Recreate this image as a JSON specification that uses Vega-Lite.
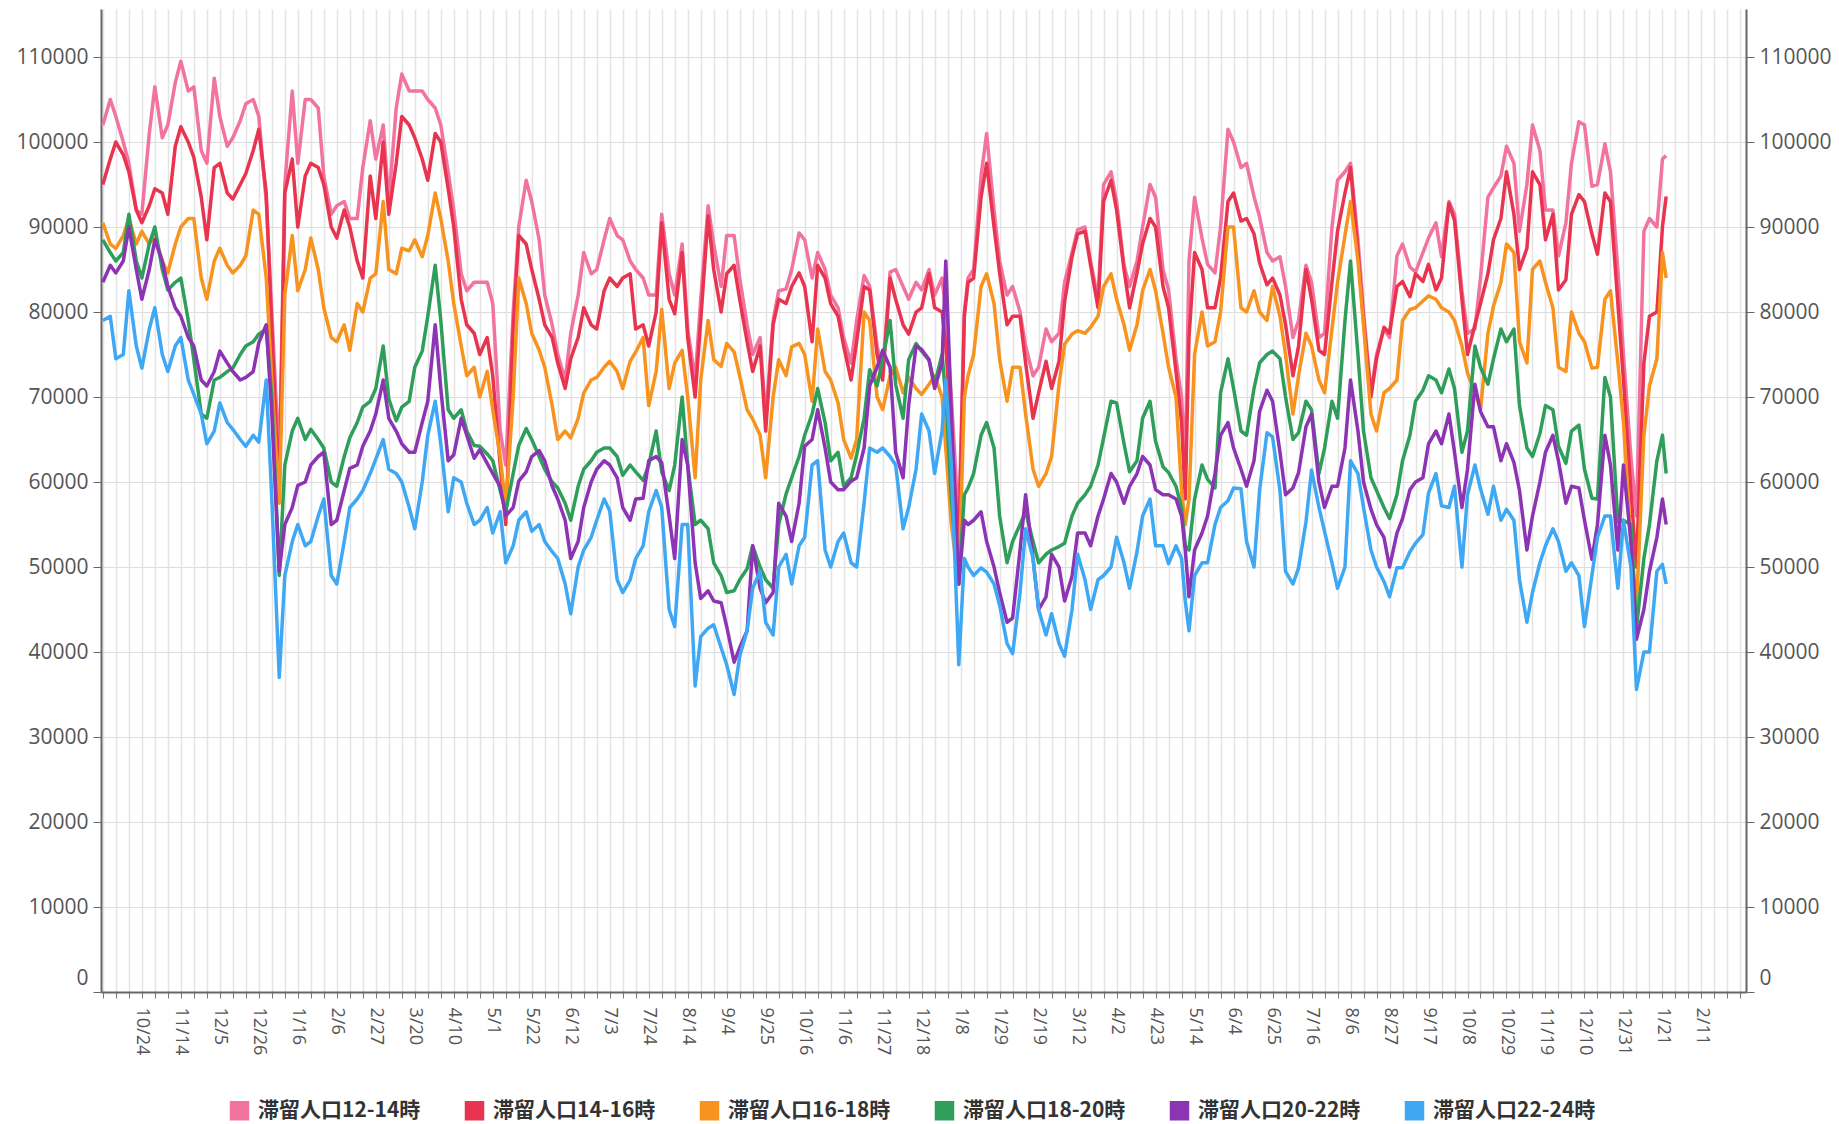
{
"$schema": "https://vega.github.io/schema/vega-lite/v6.json",
"width": 1645, "height": 983,
"autosize": {"type": "none"},
"padding": {"left": 101, "top": 9, "right": 93, "bottom": 132},
"background": "white",
"config": {"view": {"stroke": null}},
"data": {"values": [
{"date":"2020-10-03","a":102000,"b":95000,"c":90500,"d":88500,"e":83500,"f":79000},
{"date":"2020-10-07","a":105000,"b":98000,"c":88000,"d":87000,"e":85500,"f":79500},
{"date":"2020-10-10","a":103000,"b":100000,"c":87500,"d":86000,"e":84600,"f":74500},
{"date":"2020-10-14","a":100000,"b":98500,"c":89000,"d":87000,"e":86000,"f":75000},
{"date":"2020-10-17","a":97500,"b":96500,"c":91000,"d":91500,"e":90000,"f":82500},
{"date":"2020-10-21","a":92000,"b":92000,"c":88000,"d":86000,"e":85000,"f":76000},
{"date":"2020-10-24","a":91500,"b":90500,"c":89500,"d":84000,"e":81500,"f":73400},
{"date":"2020-10-28","a":101000,"b":92500,"c":88000,"d":88000,"e":85000,"f":78000},
{"date":"2020-10-31","a":106500,"b":94500,"c":89000,"d":90000,"e":88500,"f":80500},
{"date":"2020-11-04","a":100500,"b":94000,"c":86000,"d":85000,"e":86000,"f":75000},
{"date":"2020-11-07","a":102000,"b":91500,"c":84600,"d":82600,"e":83000,"f":73000},
{"date":"2020-11-11","a":107000,"b":99500,"c":88000,"d":83500,"e":80500,"f":76000},
{"date":"2020-11-14","a":109500,"b":101800,"c":90000,"d":84000,"e":79500,"f":77000},
{"date":"2020-11-18","a":106000,"b":100000,"c":91000,"d":79000,"e":77000,"f":72000},
{"date":"2020-11-21","a":106500,"b":98200,"c":91000,"d":74400,"e":76000,"f":70300},
{"date":"2020-11-25","a":99000,"b":93500,"c":84000,"d":68000,"e":72000,"f":68000},
{"date":"2020-11-28","a":97500,"b":88500,"c":81500,"d":67500,"e":71300,"f":64500},
{"date":"2020-12-02","a":107500,"b":97000,"c":86000,"d":72000,"e":73000,"f":66000},
{"date":"2020-12-05","a":103000,"b":97500,"c":87500,"d":72300,"e":75400,"f":69300},
{"date":"2020-12-09","a":99500,"b":94000,"c":85500,"d":73000,"e":74000,"f":67000},
{"date":"2020-12-12","a":100500,"b":93300,"c":84600,"d":73400,"e":73000,"f":66200},
{"date":"2020-12-16","a":102500,"b":95000,"c":85500,"d":75000,"e":72000,"f":65000},
{"date":"2020-12-19","a":104500,"b":96300,"c":86600,"d":76000,"e":72300,"f":64200},
{"date":"2020-12-23","a":105000,"b":99000,"c":92000,"d":76500,"e":73000,"f":65500},
{"date":"2020-12-26","a":103000,"b":101500,"c":91500,"d":77400,"e":76400,"f":64700},
{"date":"2020-12-30","a":93000,"b":94000,"c":84000,"d":78000,"e":78500,"f":72000},
{"date":"2021-01-02","a":80000,"b":78000,"c":72000,"d":70000,"e":68000,"f":58000},
{"date":"2021-01-06","a":62000,"b":58000,"c":57500,"d":49000,"e":49500,"f":37000},
{"date":"2021-01-09","a":95000,"b":94000,"c":82000,"d":62000,"e":55000,"f":49000},
{"date":"2021-01-13","a":106000,"b":98000,"c":89000,"d":66000,"e":57000,"f":53000},
{"date":"2021-01-16","a":97500,"b":90000,"c":82500,"d":67500,"e":59600,"f":55000},
{"date":"2021-01-20","a":105000,"b":96000,"c":85000,"d":65000,"e":60000,"f":52500},
{"date":"2021-01-23","a":105000,"b":97500,"c":88700,"d":66200,"e":62000,"f":53000},
{"date":"2021-01-27","a":104000,"b":97000,"c":85000,"d":65000,"e":63000,"f":56000},
{"date":"2021-01-30","a":96000,"b":95000,"c":80500,"d":64000,"e":63500,"f":58000},
{"date":"2021-02-03","a":91500,"b":90000,"c":77000,"d":60000,"e":55000,"f":49000},
{"date":"2021-02-06","a":92500,"b":88700,"c":76500,"d":59500,"e":55500,"f":48000},
{"date":"2021-02-10","a":93000,"b":92000,"c":78500,"d":63000,"e":59000,"f":53000},
{"date":"2021-02-13","a":91000,"b":90000,"c":75500,"d":65200,"e":61600,"f":57000},
{"date":"2021-02-17","a":91000,"b":86000,"c":81000,"d":67000,"e":62000,"f":58000},
{"date":"2021-02-20","a":97000,"b":84000,"c":80000,"d":68800,"e":64200,"f":59000},
{"date":"2021-02-24","a":102500,"b":96000,"c":84000,"d":69500,"e":66000,"f":61000},
{"date":"2021-02-27","a":98000,"b":91000,"c":84500,"d":71000,"e":68000,"f":62700},
{"date":"2021-03-03","a":102000,"b":100000,"c":93000,"d":76000,"e":72000,"f":65000},
{"date":"2021-03-06","a":93000,"b":91500,"c":85000,"d":69800,"e":67500,"f":61500},
{"date":"2021-03-10","a":104000,"b":97500,"c":84500,"d":67200,"e":66000,"f":61000},
{"date":"2021-03-13","a":108000,"b":103000,"c":87500,"d":68800,"e":64500,"f":60000},
{"date":"2021-03-17","a":106000,"b":102000,"c":87200,"d":69500,"e":63500,"f":57000},
{"date":"2021-03-20","a":106000,"b":100500,"c":88500,"d":73500,"e":63500,"f":54500},
{"date":"2021-03-24","a":106000,"b":98000,"c":86500,"d":75400,"e":67000,"f":60000},
{"date":"2021-03-27","a":105000,"b":95500,"c":89000,"d":79500,"e":69500,"f":65500},
{"date":"2021-03-31","a":104000,"b":101000,"c":94000,"d":85500,"e":78500,"f":69500},
{"date":"2021-04-03","a":102000,"b":100000,"c":91000,"d":79000,"e":71000,"f":64500},
{"date":"2021-04-07","a":96500,"b":94500,"c":86000,"d":68500,"e":62500,"f":56500},
{"date":"2021-04-10","a":92000,"b":90000,"c":81000,"d":67500,"e":63200,"f":60500},
{"date":"2021-04-14","a":84500,"b":81500,"c":76000,"d":68500,"e":67500,"f":60000},
{"date":"2021-04-17","a":82500,"b":78500,"c":72500,"d":66000,"e":65500,"f":57500},
{"date":"2021-04-21","a":83500,"b":77500,"c":73500,"d":64300,"e":62800,"f":55000},
{"date":"2021-04-24","a":83500,"b":75000,"c":70000,"d":64200,"e":63800,"f":55500},
{"date":"2021-04-28","a":83500,"b":77000,"c":73000,"d":63300,"e":62200,"f":57000},
{"date":"2021-05-01","a":81000,"b":72500,"c":68500,"d":62500,"e":61000,"f":54000},
{"date":"2021-05-05","a":66000,"b":62000,"c":63000,"d":59000,"e":59500,"f":56500},
{"date":"2021-05-08","a":62000,"b":55000,"c":57000,"d":56500,"e":56000,"f":50500},
{"date":"2021-05-12","a":80000,"b":78000,"c":70000,"d":61000,"e":57000,"f":52500},
{"date":"2021-05-15","a":90000,"b":89000,"c":84000,"d":64300,"e":60100,"f":55500},
{"date":"2021-05-19","a":95500,"b":88000,"c":81000,"d":66300,"e":61200,"f":56500},
{"date":"2021-05-22","a":93000,"b":85000,"c":77500,"d":65000,"e":63000,"f":54200},
{"date":"2021-05-26","a":88500,"b":81500,"c":75500,"d":63000,"e":63700,"f":55000},
{"date":"2021-05-29","a":82000,"b":78500,"c":73500,"d":61500,"e":62500,"f":53000},
{"date":"2021-06-02","a":78500,"b":77000,"c":69000,"d":60000,"e":59500,"f":51800},
{"date":"2021-06-05","a":75000,"b":74000,"c":65000,"d":59300,"e":58000,"f":51000},
{"date":"2021-06-09","a":72000,"b":71000,"c":66000,"d":57500,"e":55500,"f":48000},
{"date":"2021-06-12","a":77500,"b":74500,"c":65200,"d":55500,"e":51000,"f":44500},
{"date":"2021-06-16","a":82000,"b":77000,"c":67500,"d":59500,"e":53000,"f":50000},
{"date":"2021-06-19","a":87000,"b":80500,"c":70500,"d":61500,"e":57000,"f":52000},
{"date":"2021-06-23","a":84500,"b":78500,"c":72000,"d":62500,"e":60000,"f":53500},
{"date":"2021-06-26","a":85000,"b":78000,"c":72300,"d":63500,"e":61500,"f":55500},
{"date":"2021-06-30","a":88500,"b":82500,"c":73500,"d":64000,"e":62500,"f":58000},
{"date":"2021-07-03","a":91000,"b":84000,"c":74200,"d":64000,"e":62000,"f":56600},
{"date":"2021-07-07","a":89000,"b":83000,"c":73000,"d":63000,"e":60500,"f":48500},
{"date":"2021-07-10","a":88500,"b":84000,"c":71000,"d":60800,"e":57000,"f":47000},
{"date":"2021-07-14","a":86000,"b":84500,"c":74200,"d":62000,"e":55500,"f":48500},
{"date":"2021-07-17","a":85000,"b":78000,"c":75300,"d":61200,"e":58000,"f":51000},
{"date":"2021-07-21","a":84000,"b":78500,"c":77000,"d":60200,"e":58100,"f":52500},
{"date":"2021-07-24","a":82000,"b":76000,"c":69000,"d":62000,"e":62500,"f":56500},
{"date":"2021-07-28","a":82000,"b":80000,"c":73000,"d":66000,"e":63000,"f":59000},
{"date":"2021-07-31","a":91500,"b":90500,"c":80300,"d":61200,"e":62300,"f":57000},
{"date":"2021-08-04","a":84500,"b":81500,"c":71000,"d":59000,"e":56000,"f":45000},
{"date":"2021-08-07","a":82000,"b":79800,"c":74000,"d":62000,"e":51000,"f":43000},
{"date":"2021-08-11","a":88000,"b":87000,"c":75500,"d":70000,"e":65000,"f":55000},
{"date":"2021-08-14","a":78000,"b":77000,"c":70000,"d":62000,"e":62000,"f":55000},
{"date":"2021-08-18","a":72000,"b":70000,"c":60500,"d":55000,"e":50500,"f":36000},
{"date":"2021-08-21","a":81500,"b":79000,"c":72000,"d":55500,"e":46300,"f":41800},
{"date":"2021-08-25","a":92500,"b":91300,"c":79000,"d":54500,"e":47200,"f":42800},
{"date":"2021-08-28","a":88000,"b":85000,"c":74400,"d":50500,"e":46000,"f":43200},
{"date":"2021-09-01","a":83000,"b":80000,"c":73600,"d":49000,"e":45800,"f":40500},
{"date":"2021-09-04","a":89000,"b":84500,"c":76300,"d":47000,"e":43000,"f":38500},
{"date":"2021-09-08","a":89000,"b":85500,"c":75300,"d":47200,"e":38800,"f":35000},
{"date":"2021-09-11","a":84000,"b":81500,"c":72500,"d":48500,"e":40500,"f":39500},
{"date":"2021-09-15","a":78500,"b":76500,"c":68500,"d":49800,"e":42500,"f":42500},
{"date":"2021-09-18","a":75000,"b":73000,"c":67400,"d":52500,"e":52500,"f":47500},
{"date":"2021-09-22","a":77000,"b":76000,"c":65500,"d":50000,"e":47500,"f":49500},
{"date":"2021-09-25","a":67500,"b":66000,"c":60500,"d":48500,"e":45800,"f":43500},
{"date":"2021-09-29","a":79000,"b":78500,"c":70000,"d":47500,"e":47000,"f":42000},
{"date":"2021-10-02","a":82500,"b":81500,"c":74400,"d":55000,"e":57500,"f":50000},
{"date":"2021-10-06","a":82700,"b":81000,"c":72500,"d":58600,"e":56000,"f":51500},
{"date":"2021-10-09","a":85000,"b":83000,"c":75900,"d":60500,"e":53000,"f":48000},
{"date":"2021-10-13","a":89300,"b":84600,"c":76300,"d":63000,"e":57500,"f":52500},
{"date":"2021-10-16","a":88500,"b":83000,"c":75000,"d":65500,"e":64200,"f":53500},
{"date":"2021-10-20","a":84000,"b":76500,"c":69500,"d":68000,"e":65000,"f":62000},
{"date":"2021-10-23","a":87000,"b":85500,"c":78000,"d":71000,"e":68500,"f":62500},
{"date":"2021-10-27","a":85000,"b":84000,"c":73000,"d":67000,"e":64000,"f":52000},
{"date":"2021-10-30","a":82000,"b":81000,"c":72000,"d":62500,"e":60000,"f":50000},
{"date":"2021-11-03","a":80500,"b":79500,"c":69300,"d":63500,"e":59100,"f":53000},
{"date":"2021-11-06","a":77000,"b":76000,"c":65000,"d":59500,"e":59100,"f":54000},
{"date":"2021-11-10","a":74000,"b":72000,"c":62800,"d":60500,"e":60100,"f":50500},
{"date":"2021-11-13","a":79000,"b":76500,"c":65000,"d":63200,"e":60500,"f":50000},
{"date":"2021-11-17","a":84300,"b":83000,"c":80000,"d":67500,"e":64000,"f":57500},
{"date":"2021-11-20","a":83000,"b":82600,"c":79000,"d":73200,"e":71300,"f":64000},
{"date":"2021-11-24","a":76000,"b":75000,"c":70000,"d":71300,"e":73500,"f":63500},
{"date":"2021-11-27","a":73000,"b":72000,"c":68500,"d":74400,"e":75500,"f":64000},
{"date":"2021-12-01","a":84700,"b":84000,"c":72500,"d":79000,"e":73500,"f":63000},
{"date":"2021-12-04","a":85000,"b":81500,"c":73500,"d":71500,"e":63500,"f":62000},
{"date":"2021-12-08","a":83000,"b":78500,"c":70500,"d":67500,"e":60500,"f":54500},
{"date":"2021-12-11","a":81500,"b":77400,"c":72300,"d":74400,"e":69000,"f":57000},
{"date":"2021-12-15","a":83500,"b":80000,"c":71000,"d":76300,"e":76000,"f":61500},
{"date":"2021-12-18","a":82600,"b":80500,"c":70300,"d":75400,"e":75600,"f":68000},
{"date":"2021-12-22","a":85000,"b":84500,"c":71500,"d":74300,"e":74400,"f":66000},
{"date":"2021-12-25","a":82000,"b":80500,"c":72500,"d":71500,"e":71000,"f":61000},
{"date":"2021-12-29","a":84000,"b":80000,"c":70000,"d":75000,"e":74000,"f":66000},
{"date":"2021-12-31","a":80000,"b":76000,"c":64000,"d":70000,"e":86000,"f":72000},
{"date":"2022-01-03","a":70000,"b":66000,"c":55000,"d":58000,"e":68000,"f":62000},
{"date":"2022-01-07","a":55000,"b":52000,"c":48000,"d":48000,"e":48000,"f":38500},
{"date":"2022-01-10","a":80000,"b":79500,"c":70000,"d":58500,"e":55500,"f":51000},
{"date":"2022-01-12","a":84000,"b":83500,"c":72500,"d":59300,"e":55000,"f":50000},
{"date":"2022-01-15","a":85000,"b":84000,"c":75000,"d":61000,"e":55500,"f":49000},
{"date":"2022-01-19","a":96000,"b":93500,"c":83000,"d":65500,"e":56500,"f":49900},
{"date":"2022-01-22","a":101000,"b":97500,"c":84500,"d":67000,"e":53000,"f":49400},
{"date":"2022-01-26","a":92000,"b":90000,"c":81000,"d":64000,"e":50000,"f":48000},
{"date":"2022-01-29","a":86000,"b":84600,"c":74400,"d":56000,"e":47000,"f":45500},
{"date":"2022-02-02","a":82000,"b":78500,"c":69500,"d":50500,"e":43500,"f":41000},
{"date":"2022-02-05","a":83000,"b":79500,"c":73500,"d":53000,"e":44000,"f":39800},
{"date":"2022-02-09","a":80000,"b":79500,"c":73500,"d":55000,"e":52000,"f":47000},
{"date":"2022-02-12","a":76000,"b":74000,"c":68000,"d":56500,"e":58500,"f":54500},
{"date":"2022-02-16","a":72500,"b":67500,"c":61500,"d":53000,"e":51000,"f":51000},
{"date":"2022-02-19","a":73500,"b":70500,"c":59500,"d":50500,"e":45000,"f":45000},
{"date":"2022-02-23","a":78000,"b":74200,"c":61000,"d":51500,"e":46500,"f":42000},
{"date":"2022-02-26","a":76500,"b":71000,"c":63000,"d":52000,"e":51500,"f":44500},
{"date":"2022-03-02","a":77500,"b":74200,"c":71500,"d":52400,"e":50000,"f":41000},
{"date":"2022-03-05","a":83500,"b":81200,"c":76200,"d":52800,"e":46000,"f":39500},
{"date":"2022-03-09","a":87000,"b":86500,"c":77400,"d":56000,"e":48900,"f":45000},
{"date":"2022-03-12","a":89700,"b":89200,"c":77800,"d":57500,"e":54000,"f":51500},
{"date":"2022-03-16","a":90000,"b":89500,"c":77500,"d":58500,"e":54000,"f":48500},
{"date":"2022-03-19","a":86000,"b":85500,"c":78200,"d":59500,"e":52500,"f":45000},
{"date":"2022-03-23","a":81500,"b":80500,"c":79500,"d":62000,"e":56000,"f":48500},
{"date":"2022-03-26","a":95000,"b":93000,"c":83000,"d":65200,"e":58000,"f":49000},
{"date":"2022-03-30","a":96500,"b":95500,"c":84500,"d":69500,"e":61000,"f":50000},
{"date":"2022-04-02","a":93000,"b":92000,"c":81500,"d":69300,"e":60000,"f":53500},
{"date":"2022-04-06","a":85500,"b":85000,"c":78500,"d":64500,"e":57500,"f":50500},
{"date":"2022-04-09","a":83000,"b":80500,"c":75500,"d":61200,"e":59500,"f":47500},
{"date":"2022-04-13","a":86000,"b":84600,"c":78500,"d":62500,"e":61000,"f":51800},
{"date":"2022-04-16","a":90000,"b":88000,"c":82500,"d":67500,"e":63000,"f":56000},
{"date":"2022-04-20","a":95000,"b":91000,"c":85000,"d":69500,"e":62000,"f":58000},
{"date":"2022-04-23","a":93500,"b":90000,"c":82500,"d":64800,"e":59100,"f":52500},
{"date":"2022-04-27","a":85000,"b":83000,"c":77500,"d":61800,"e":58500,"f":52500},
{"date":"2022-04-30","a":82600,"b":80500,"c":73500,"d":61100,"e":58500,"f":50400},
{"date":"2022-05-04","a":74500,"b":73000,"c":70000,"d":59500,"e":58000,"f":52500},
{"date":"2022-05-07","a":70000,"b":67000,"c":59000,"d":57000,"e":56000,"f":51000},
{"date":"2022-05-09","a":62000,"b":58000,"c":55000,"d":52500,"e":52000,"f":46000},
{"date":"2022-05-11","a":86000,"b":77000,"c":58000,"d":52000,"e":46500,"f":42500},
{"date":"2022-05-14","a":93500,"b":87000,"c":75000,"d":58000,"e":52000,"f":49000},
{"date":"2022-05-18","a":88700,"b":85000,"c":80000,"d":62000,"e":54000,"f":50500},
{"date":"2022-05-21","a":85600,"b":80500,"c":76000,"d":60300,"e":56000,"f":50500},
{"date":"2022-05-25","a":84600,"b":80500,"c":76500,"d":59300,"e":61000,"f":55000},
{"date":"2022-05-28","a":90000,"b":84000,"c":80000,"d":70500,"e":65500,"f":57000},
{"date":"2022-06-01","a":101500,"b":93000,"c":90000,"d":74500,"e":67000,"f":57800},
{"date":"2022-06-04","a":100000,"b":94000,"c":90000,"d":71000,"e":64000,"f":59300},
{"date":"2022-06-08","a":97000,"b":90700,"c":80500,"d":66000,"e":61500,"f":59200},
{"date":"2022-06-11","a":97500,"b":91000,"c":80000,"d":65500,"e":59500,"f":53000},
{"date":"2022-06-15","a":93600,"b":89200,"c":82500,"d":71000,"e":62500,"f":50000},
{"date":"2022-06-18","a":91200,"b":85800,"c":80000,"d":74000,"e":68300,"f":59000},
{"date":"2022-06-22","a":87000,"b":83200,"c":79000,"d":75000,"e":70800,"f":65800},
{"date":"2022-06-25","a":86000,"b":84000,"c":83000,"d":75400,"e":69500,"f":65300},
{"date":"2022-06-29","a":86500,"b":82000,"c":79500,"d":74500,"e":63500,"f":59000},
{"date":"2022-07-02","a":83000,"b":78500,"c":75000,"d":70000,"e":58500,"f":49500},
{"date":"2022-07-06","a":77000,"b":72500,"c":68000,"d":65000,"e":59300,"f":48000},
{"date":"2022-07-09","a":79000,"b":76000,"c":72500,"d":65800,"e":61100,"f":49900},
{"date":"2022-07-13","a":85500,"b":85000,"c":77500,"d":69500,"e":66500,"f":55300},
{"date":"2022-07-16","a":83500,"b":81500,"c":76000,"d":68500,"e":68000,"f":61400},
{"date":"2022-07-20","a":77000,"b":75500,"c":72000,"d":61000,"e":60000,"f":57000},
{"date":"2022-07-23","a":77500,"b":75000,"c":70500,"d":64000,"e":57000,"f":54200},
{"date":"2022-07-27","a":90000,"b":83500,"c":78000,"d":69500,"e":59500,"f":50500},
{"date":"2022-07-30","a":95500,"b":89500,"c":83500,"d":67500,"e":59500,"f":47500},
{"date":"2022-08-03","a":96500,"b":94000,"c":89000,"d":79000,"e":64000,"f":50000},
{"date":"2022-08-06","a":97500,"b":97000,"c":93000,"d":86000,"e":72000,"f":62500},
{"date":"2022-08-10","a":88500,"b":87000,"c":86000,"d":75000,"e":66000,"f":61000},
{"date":"2022-08-13","a":80000,"b":79000,"c":78500,"d":66000,"e":60000,"f":57000},
{"date":"2022-08-17","a":70500,"b":70000,"c":68000,"d":60500,"e":56800,"f":52000},
{"date":"2022-08-20","a":75000,"b":74500,"c":66000,"d":59000,"e":55000,"f":50000},
{"date":"2022-08-24","a":78000,"b":78200,"c":70500,"d":57000,"e":53500,"f":48300},
{"date":"2022-08-27","a":77000,"b":77500,"c":71000,"d":55700,"e":50000,"f":46500},
{"date":"2022-08-31","a":86600,"b":83000,"c":72000,"d":58500,"e":54000,"f":49900},
{"date":"2022-09-03","a":88000,"b":83600,"c":79000,"d":62500,"e":55700,"f":49900},
{"date":"2022-09-07","a":85300,"b":81800,"c":80300,"d":65500,"e":59100,"f":51800},
{"date":"2022-09-10","a":84700,"b":84500,"c":80500,"d":69500,"e":60000,"f":52800},
{"date":"2022-09-14","a":87000,"b":83600,"c":81300,"d":70800,"e":60500,"f":53800},
{"date":"2022-09-17","a":88700,"b":85600,"c":81900,"d":72500,"e":64500,"f":58700},
{"date":"2022-09-21","a":90500,"b":82600,"c":81500,"d":72000,"e":66000,"f":61000},
{"date":"2022-09-24","a":86500,"b":84000,"c":80500,"d":70500,"e":64500,"f":57200},
{"date":"2022-09-28","a":93000,"b":92800,"c":80000,"d":73300,"e":68000,"f":57000},
{"date":"2022-10-01","a":91500,"b":90800,"c":79000,"d":71000,"e":63500,"f":59500},
{"date":"2022-10-05","a":82500,"b":81500,"c":76000,"d":63500,"e":57000,"f":50000},
{"date":"2022-10-08","a":77500,"b":75000,"c":72800,"d":66000,"e":61500,"f":58500},
{"date":"2022-10-12","a":78000,"b":78500,"c":70500,"d":76000,"e":71500,"f":62000},
{"date":"2022-10-15","a":84000,"b":81000,"c":68500,"d":73500,"e":68300,"f":59200},
{"date":"2022-10-19","a":93500,"b":84500,"c":77500,"d":71500,"e":66500,"f":56200},
{"date":"2022-10-22","a":94600,"b":88500,"c":80700,"d":74500,"e":66500,"f":59500},
{"date":"2022-10-26","a":96000,"b":91000,"c":83500,"d":78000,"e":62500,"f":55500},
{"date":"2022-10-29","a":99500,"b":96500,"c":88000,"d":76500,"e":64500,"f":56800},
{"date":"2022-11-02","a":97500,"b":91500,"c":87000,"d":78000,"e":62300,"f":55500},
{"date":"2022-11-05","a":89500,"b":85000,"c":76500,"d":69000,"e":59000,"f":48500},
{"date":"2022-11-09","a":95000,"b":87500,"c":74000,"d":64000,"e":52000,"f":43500},
{"date":"2022-11-12","a":102000,"b":96500,"c":85000,"d":63000,"e":56000,"f":47000},
{"date":"2022-11-16","a":99000,"b":95000,"c":86000,"d":65700,"e":60000,"f":50500},
{"date":"2022-11-19","a":92000,"b":88500,"c":83500,"d":69000,"e":63500,"f":52500},
{"date":"2022-11-23","a":92000,"b":91500,"c":80500,"d":68500,"e":65500,"f":54500},
{"date":"2022-11-26","a":86600,"b":82600,"c":73500,"d":64200,"e":62500,"f":53000},
{"date":"2022-11-30","a":90500,"b":83800,"c":73000,"d":62200,"e":57500,"f":49500},
{"date":"2022-12-03","a":97500,"b":91500,"c":80000,"d":66000,"e":59500,"f":50500},
{"date":"2022-12-07","a":102400,"b":93800,"c":77500,"d":66700,"e":59300,"f":49000},
{"date":"2022-12-10","a":102000,"b":93000,"c":76500,"d":61500,"e":55500,"f":43000},
{"date":"2022-12-14","a":94800,"b":89200,"c":73400,"d":58100,"e":50900,"f":49000},
{"date":"2022-12-17","a":95000,"b":86800,"c":73500,"d":58000,"e":55000,"f":53500},
{"date":"2022-12-21","a":99800,"b":94000,"c":81500,"d":72300,"e":65500,"f":56000},
{"date":"2022-12-24","a":96500,"b":93000,"c":82500,"d":70000,"e":62000,"f":56000},
{"date":"2022-12-28","a":85000,"b":81000,"c":74000,"d":55300,"e":52000,"f":47500},
{"date":"2022-12-31","a":75000,"b":72000,"c":67000,"d":55500,"e":62000,"f":55500},
{"date":"2023-01-04","a":63000,"b":59000,"c":53000,"d":55000,"e":53000,"f":50000},
{"date":"2023-01-07","a":56000,"b":50000,"c":45000,"d":42800,"e":41500,"f":35600},
{"date":"2023-01-11","a":89500,"b":74000,"c":65500,"d":51000,"e":45000,"f":40000},
{"date":"2023-01-14","a":91000,"b":79500,"c":71300,"d":55000,"e":49500,"f":40000},
{"date":"2023-01-18","a":90000,"b":80000,"c":74500,"d":62500,"e":53500,"f":49500},
{"date":"2023-01-21","a":98000,"b":90000,"c":87000,"d":65500,"e":58000,"f":50300},
{"date":"2023-01-23","a":98400,"b":93600,"c":84000,"d":61000,"e":55000,"f":48000}
]},
"transform": [{"fold": ["a","b","c","d","e","f"], "as": ["series","value"]}],
"encoding": {
  "x": {"field": "date", "type": "temporal",
    "scale": {"type": "utc", "domain": [{"year":2020,"month":10,"date":2,"utc":true},{"year":2023,"month":3,"date":7,"utc":true}]},
    "axis": {"title": null,
      "values": {"expr": "sequence(utc(2020,9,3), utc(2023,2,8), 604800000)"},
      "grid": true, "gridColor": "#e3e3e3", "gridWidth": 1.5,
      "labelExpr": "(datum.value >= utc(2020,9,24) && datum.value <= utc(2023,1,11) && (round((datum.value - utc(2020,9,24)) / 86400000) % 21) == 0) ? utcFormat(datum.value, '%-m/%-d') : ''",
      "labelAngle": 90, "labelFontSize": 18, "labelFont": "Open Sans", "labelColor": "#555555",
      "labelOverlap": false, "labelFlush": false, "labelBound": false, "labelPadding": 9,
      "tickSize": 6, "tickColor": "#777777", "domainColor": "#666666", "domainWidth": 2}}
},
"layer": [
  {"mark": {"type": "line", "strokeWidth": 3.5, "interpolate": "linear", "strokeJoin": "round"},
   "encoding": {
     "y": {"field": "value", "type": "quantitative", "scale": {"domain": [0, 115650], "nice": false},
       "axis": {"orient": "left", "title": null, "values": [0,10000,20000,30000,40000,50000,60000,70000,80000,90000,100000,110000],
         "format": "d", "grid": true, "gridColor": "#dddddd", "gridWidth": 1.2,
         "labelFontSize": 21, "labelFont": "Open Sans", "labelColor": "#555555", "labelPadding": 5,
         "labelOffset": {"condition": {"test": "datum.value == 0", "value": -14}, "value": 0},
         "tickSize": 8, "tickColor": "#666666", "domainColor": "#666666", "domainWidth": 2}},
     "color": {"field": "series", "type": "nominal",
       "scale": {"domain": ["a","b","c","d","e","f"], "range": ["#f2739f","#e8344f","#f7931e","#2f9e5a","#8c34b4","#3fa8f4"]},
       "legend": {"title": null, "orient": "none", "legendX": 128, "legendY": 1091, "direction": "horizontal", "columns": 6,
         "symbolType": "square", "symbolSize": 380, "symbolStrokeWidth": 0, "symbolOpacity": 1,
         "labelFontSize": 21, "labelFont": "Noto Sans CJK JP", "labelFontWeight": "bold", "labelColor": "#333333",
         "labelLimit": 400, "labelOffset": 8, "columnPadding": 43,
         "labelExpr": "datum.label == 'a' ? '滞留人口12-14時' : datum.label == 'b' ? '滞留人口14-16時' : datum.label == 'c' ? '滞留人口16-18時' : datum.label == 'd' ? '滞留人口18-20時' : datum.label == 'e' ? '滞留人口20-22時' : '滞留人口22-24時'",
         "encode": {"symbols": {"update": {"fill": {"scale": "color", "field": "value"}, "stroke": {"value": "transparent"}, "opacity": {"value": 1}}}}}}
   }},
  {"mark": {"type": "line", "opacity": 0},
   "encoding": {
     "y": {"field": "value", "type": "quantitative", "scale": {"domain": [0, 115650], "nice": false},
       "axis": {"orient": "right", "title": null, "values": [0,10000,20000,30000,40000,50000,60000,70000,80000,90000,100000,110000],
         "format": "d", "grid": false,
         "labelFontSize": 21, "labelFont": "Open Sans", "labelColor": "#555555", "labelPadding": 5,
         "labelOffset": {"condition": {"test": "datum.value == 0", "value": -14}, "value": 0},
         "tickSize": 8, "tickColor": "#666666", "domainColor": "#666666", "domainWidth": 2}},
     "detail": {"field": "series", "type": "nominal"}
   }}
],
"resolve": {"axis": {"y": "independent"}}
}
